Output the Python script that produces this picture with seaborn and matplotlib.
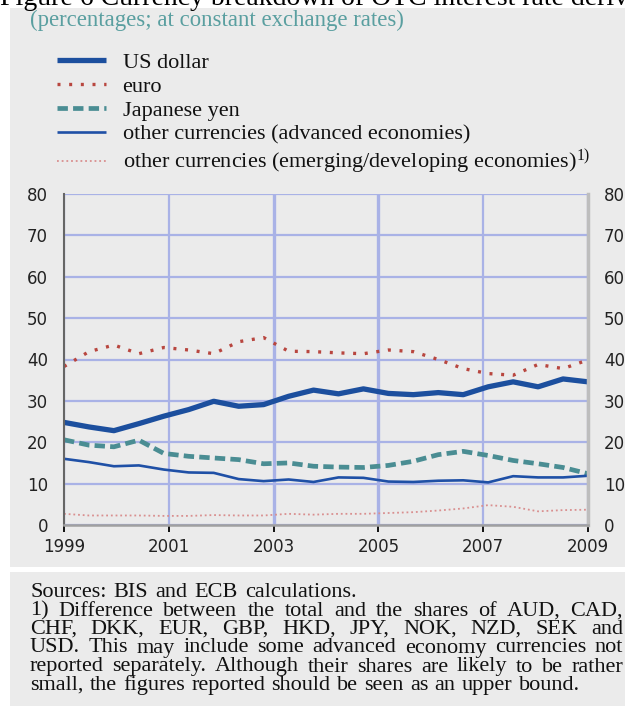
import numpy as np
import pandas as pd
import matplotlib
matplotlib.use("Agg")
import matplotlib.pyplot as plt
from matplotlib.patches import Rectangle
import seaborn as sns

# ---------------- data ----------------
periods = ["1998-06", "1998-12", "1999-06", "1999-12", "2000-06", "2000-12",
           "2001-06", "2001-12", "2002-06", "2002-12", "2003-06", "2003-12",
           "2004-06", "2004-12", "2005-06", "2005-12", "2006-06", "2006-12",
           "2007-06", "2007-12", "2008-06", "2008-12"]
us_dollar = [24.8, 23.7, 22.8, 24.5, 26.3, 27.9, 29.9, 28.7, 29.1, 31.1, 32.6,
             31.7, 32.9, 31.8, 31.5, 32.0, 31.5, 33.4, 34.6, 33.4, 35.3, 34.6]
euro = [38.3, 41.9, 43.5, 41.4, 42.9, 42.3, 41.4, 44.3, 45.3, 42.0, 41.9,
        41.6, 41.4, 42.3, 41.9, 40.0, 37.8, 36.6, 36.2, 38.8, 37.8, 39.9]
japanese_yen = [20.6, 19.3, 18.9, 20.5, 17.3, 16.6, 16.2, 15.8, 14.8, 15.0, 14.2,
                14.0, 13.9, 14.4, 15.4, 17.0, 17.8, 16.8, 15.6, 14.8, 13.9, 12.4]
other_advanced = [16.0, 15.2, 14.2, 14.4, 13.4, 12.7, 12.6, 11.1, 10.6, 11.0, 10.4,
                  11.5, 11.4, 10.5, 10.4, 10.7, 10.8, 10.3, 11.8, 11.5, 11.5, 11.9]
other_emerging = [2.7, 2.3, 2.3, 2.3, 2.2, 2.2, 2.4, 2.3, 2.3, 2.7, 2.5,
                  2.7, 2.7, 2.9, 3.1, 3.5, 4.0, 4.8, 4.4, 3.3, 3.6, 3.7]
series_labels = ["US dollar", "euro", "Japanese yen",
                 "other currencies (advanced economies)",
                 "other currencies (emerging/developing economies)$^{1)}$"]
x_ticks = [1999, 2001, 2003, 2005, 2007, 2009]
y_ticks = [0, 10, 20, 30, 40, 50, 60, 70, 80]

title_text = "Figure 6 Currency breakdown of OTC interest rate derivatives"
subtitle_text = "(percentages; at constant exchange rates)"
footnote_lines = [
    "Sources: BIS and ECB calculations.",
    "1) Difference between the total and the shares of AUD, CAD,",
    "CHF, DKK, EUR, GBP, HKD, JPY, NOK, NZD, SEK and",
    "USD. This may include some advanced economy currencies not",
    "reported separately. Although their shares are likely to be rather",
    "small, the figures reported should be seen as an upper bound.",
]

# ---------------- style ----------------
sns.set_style("white")
plt.rcParams["font.family"] = ["Liberation Serif", "DejaVu Serif"]
plt.rcParams["mathtext.default"] = "regular"

BG = "#ebebeb"
GRID = "#a9b2e6"
W, H = 625, 706

def fx(px):
    return px / W

def fy(py):
    return 1 - py / H

fig = plt.figure(figsize=(W / 100, H / 100), dpi=100, facecolor="white")

# background panels
fig.add_artist(Rectangle((fx(10), fy(567)), 1 - fx(10), (567 - 8) / H,
                         transform=fig.transFigure, facecolor=BG,
                         edgecolor="none", zorder=0))
fig.add_artist(Rectangle((fx(10), 0), 1 - fx(10), (706 - 572) / H,
                         transform=fig.transFigure, facecolor=BG,
                         edgecolor="none", zorder=0))

ax = fig.add_axes([fx(64), fy(525), (588 - 64) / W, (525 - 194) / H])
ax.set_facecolor("none")

x = np.linspace(1999, 2009, len(periods))
df = pd.DataFrame({"x": x, "usd": us_dollar, "eur": euro, "jpy": japanese_yen,
                   "adv": other_advanced, "emg": other_emerging})

specs = [
    ("usd", "#1c4f9e", 3.8, None),
    ("eur", "#b8463f", 2.4, (0.9, 2.6)),
    ("jpy", "#4a8d93", 3.4, (2.2, 1.1)),
    ("adv", "#1f50a6", 1.9, None),
    ("emg", "#d98f8f", 1.3, (1.0, 1.6)),
]
handles = []
for (col, color, lw, dashes), lab in zip(specs, series_labels):
    sns.lineplot(data=df, x="x", y=col, ax=ax, color=color, linewidth=lw,
                 label=lab, legend=False)
    line = ax.lines[-1]
    if dashes is not None:
        line.set_dashes(dashes)
    line.set_solid_capstyle("butt")
    line.set_dash_capstyle("butt")
    handles.append(line)

ax.set_xlim(1999, 2009)
ax.set_ylim(0, 80)
ax.set_xticks(x_ticks)
ax.set_yticks(y_ticks)
ax.set_xlabel("")
ax.set_ylabel("")
ax.set_axisbelow(True)
ax.grid(True, color=GRID, linewidth=1.6)
for yr, gl in zip(x_ticks, ax.xaxis.get_gridlines()):
    if yr in (2003, 2005):
        gl.set_linewidth(2.4)

ax.tick_params(axis="x", which="both", bottom=True, length=5, width=1.3,
               color="black", direction="out", pad=4, labelsize=12,
               labelcolor="#222222")
ax.tick_params(axis="y", left=False, right=False, labelleft=True,
               labelright=True, labelsize=12, pad=8, labelcolor="#222222")
for lbl in ax.get_xticklabels() + ax.get_yticklabels():
    lbl.set_fontfamily("DejaVu Sans")

ax.spines["top"].set_visible(False)
ax.spines["left"].set_color("#666666")
ax.spines["left"].set_linewidth(1.5)
ax.spines["right"].set_color("#bdbdbd")
ax.spines["right"].set_linewidth(2.5)
ax.spines["bottom"].set_color("#a0a0a0")
ax.spines["bottom"].set_linewidth(1.8)

# legend
leg = fig.legend(handles, series_labels, loc="upper left",
                 bbox_to_anchor=(fx(57), fy(52)), bbox_transform=fig.transFigure,
                 frameon=False, fontsize=16, handlelength=2.2,
                 handletextpad=0.75, labelspacing=0.16, borderpad=0,
                 borderaxespad=0)
for t in leg.get_texts():
    t.set_color("#111111")

# title (cut off at top as in the reference) and subtitle
fig.text(fx(0), fy(5), title_text, fontsize=20, color="black",
         va="baseline", ha="left")
fig.text(fx(30), fy(26), subtitle_text, fontsize=16.4, color="#5a9fa0",
         va="baseline", ha="left")

# footnote with justified lines
renderer = fig.canvas.get_renderer()
foot_baselines = [597, 615.5, 634, 652.5, 671.5, 690]
foot_right = [357, 623, 623, 623, 623, 580]

def place_line(text, base_px, x0, x1, size):
    words = text.split(" ")
    objs = [fig.text(0, fy(base_px), w, fontsize=size, color="#111111",
                     va="baseline", ha="left") for w in words]
    widths = [o.get_window_extent(renderer).width for o in objs]
    gap = (x1 - x0 - sum(widths)) / max(len(words) - 1, 1)
    xpos = x0
    for o, w in zip(objs, widths):
        o.set_x(fx(xpos))
        xpos += w + gap

for line_text, base, right in zip(footnote_lines, foot_baselines, foot_right):
    place_line(line_text, base, 30, right, 16)

fig.savefig("out.png", dpi=100, facecolor="white")
